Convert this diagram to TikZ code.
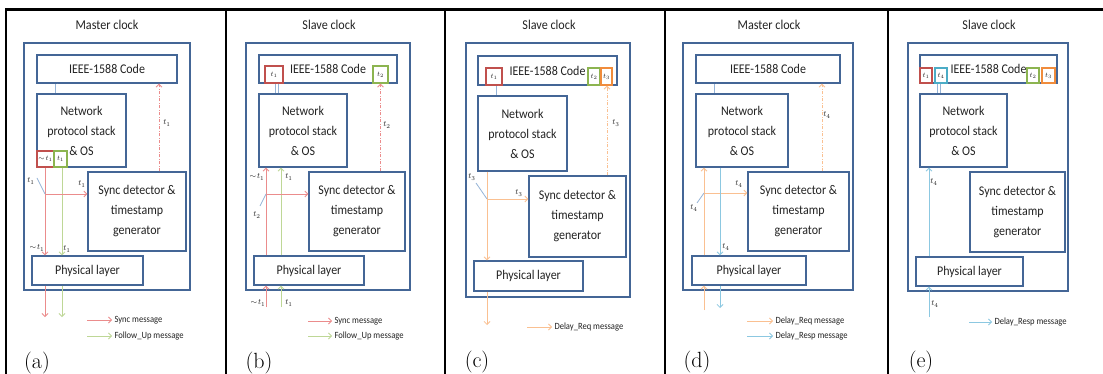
\documentclass[tikz,border=0pt]{standalone}
\usepackage{fontspec}
\usetikzlibrary{arrows.meta}
\newfontfamily\calfont[FakeStretch=0.9]{Carlito}

\definecolor{boxblue}{RGB}{68,102,150}
\definecolor{syncred}{RGB}{235,140,140}
\definecolor{tsred}{RGB}{192,80,77}
\definecolor{fugreen}{RGB}{190,215,150}
\definecolor{tsgreen}{RGB}{140,180,80}
\definecolor{reqorange}{RGB}{250,192,145}
\definecolor{tsorange}{RGB}{240,140,60}
\definecolor{respblue}{RGB}{140,200,225}
\definecolor{tsblue}{RGB}{75,172,198}
\definecolor{tickblue}{RGB}{150,180,215}
\definecolor{inkgray}{RGB}{35,35,35}

\tikzset{
  >={Straight Barb[length=3pt,width=6pt]},
  panelframe/.style={line width=2.4pt, draw=black},
  blk/.style={draw=boxblue, line width=1.3pt, fill=white, inner sep=0pt,
    text=inkgray, font=\calfont\fontsize{13.3}{20}\selectfont, align=center},
  tsbox/.style={draw=#1, line width=1.3pt, font=\fontsize{7}{7}\selectfont},
  msync/.style={draw=syncred, line width=0.8pt},
  mfollow/.style={draw=fugreen, line width=0.8pt},
  mreq/.style={draw=reqorange, line width=0.8pt},
  mresp/.style={draw=respblue, line width=0.8pt},
  mtick/.style={draw=tickblue, line width=0.8pt},
  dashdot/.style={dash pattern=on 3pt off 1.5pt on 1pt off 1.5pt},
  ifacelink/.style={draw=tickblue, double=white, double distance=2pt, line width=0.6pt},
  tlabel/.style={inner sep=0pt, text=inkgray, font=\fontsize{8.5}{8.5}\selectfont},
  clocktitle/.style={inner sep=0pt, text=inkgray, font=\calfont\fontsize{13.5}{13.5}\selectfont},
  legtext/.style={anchor=west, inner sep=0pt, outer sep=2.5pt, text=inkgray,
    font=\calfont\fontsize{9.5}{9.5}\selectfont},
  subcap/.style={inner sep=0pt, text=black, font=\fontsize{22}{22}\selectfont}
}

% block given by its corners: [options]{name}{x1}{y1}{x2}{y2}{text}
\newcommand\mkblock[7][]{%
  \node[blk,#1,minimum width={(#5)-(#3)},minimum height={(#6)-(#4)}]
    (#2) at ({(#3+#5)/2},{(#4+#6)/2}) {#7};}

\begin{document}
\begin{tikzpicture}[x=1pt,y=-1pt]
\useasboundingbox (0,0) rectangle (1103,374);
\fill[white] (0,0) rectangle (1103,374);

% table frame
\draw[panelframe] (6,374) -- (6,9.5) -- (1103,9.5);
\foreach \xx in {226,445,665,888} \draw[panelframe] (\xx,9.5) -- (\xx,374);

% ---------------- (a) master: Sync + Follow_Up sent ----------------
\node[clocktitle] (a-title) at (107,25) {Master clock};
\mkblock{a-out}{24}{43}{190}{290}{}
\mkblock{a-ieee}{37}{55}{177}{83}{IEEE-1588 Code}
\mkblock{a-net}{37}{94}{126}{167}{Network\\protocol stack\\\& OS}
\mkblock{a-syn}{88}{172}{186}{251}{Sync detector \&\\timestamp\\generator}
\mkblock{a-phy}{32}{256}{143}{285}{Physical layer}
\coordinate (a-dbl) at (56.5,0);
\draw[ifacelink] (a-ieee.south -| a-dbl) -- (a-net.north -| a-dbl);
\mkblock[tsbox=tsred]{a-tr}{37}{151}{54}{167}{$\sim\!t_1$}
\mkblock[tsbox=tsgreen]{a-tg}{54}{151}{67}{167}{$t_1$}
\coordinate (a-rx) at (45,0);
\coordinate (a-gx) at (62,0);
\coordinate (a-rend) at (45,317);
\coordinate (a-gend) at (62,317);
\draw[msync,->] (a-tr.south -| a-rx) -- (a-phy.north -| a-rx);
\draw[msync,->] (a-phy.south -| a-rx) -- (a-rend);
\draw[mfollow,->] (a-tg.south -| a-gx) -- (a-phy.north -| a-gx);
\draw[mfollow,->] (a-phy.south -| a-gx) -- (a-gend);
\coordinate (a-br) at (45,194);
\draw[msync,->] (a-br) -- (a-br -| a-syn.west);
\coordinate (a-tk) at (37,178);
\draw[mtick] (a-br) -- (a-tk);
\node[tlabel] (a-l1) at (31,181) {$t_1$};
\node[tlabel] (a-l2) at (82,184) {$t_1$};
\node[tlabel] (a-l3) at (37,248) {$\sim\!t_1$};
\node[tlabel] (a-l4) at (67,249) {$t_1$};
\coordinate (a-dx) at (159,0);
\draw[msync,dashdot,->] (a-syn.north -| a-dx) -- (a-ieee.south -| a-dx);
\node[tlabel] (a-l5) at (167,123) {$t_1$};
\node[legtext] (a-lg1) at (112,320) {Sync message};
\node[legtext] (a-lg2) at (112,336) {Follow\_Up message};
\coordinate (a-lg1s) at (87,320);
\coordinate (a-lg2s) at (87,336);
\draw[msync,->] (a-lg1s) -- (a-lg1.west);
\draw[mfollow,->] (a-lg2s) -- (a-lg2.west);
\node[subcap] (a-cap) at (37,363) {(a)};

% ---------------- (b) slave: Sync + Follow_Up received ----------------
\node[clocktitle] (b-title) at (329,25) {Slave clock};
\mkblock{b-out}{246}{43}{410}{290}{}
\mkblock{b-ieee}{259}{55}{397}{83}{IEEE-1588 Code}
\mkblock[tsbox=tsred]{b-tr}{265}{66}{283}{83}{$t_1$}
\mkblock[tsbox=tsgreen]{b-tg}{373}{66}{388}{83}{$t_2$}
\mkblock{b-net}{259}{94}{347}{167}{Network\\protocol stack\\\& OS}
\mkblock{b-syn}{309}{172}{405}{251}{Sync detector \&\\timestamp\\generator}
\mkblock{b-phy}{254}{256}{364}{285}{Physical layer}
\coordinate (b-dbl) at (277,0);
\draw[ifacelink] (b-ieee.south -| b-dbl) -- (b-net.north -| b-dbl);
\coordinate (b-rx) at (266,0);
\coordinate (b-gx) at (281,0);
\coordinate (b-rst) at (266,307);
\coordinate (b-gst) at (281,307);
\draw[msync,->] (b-rst) -- (b-phy.south -| b-rx);
\draw[msync,->] (b-phy.north -| b-rx) -- (b-net.south -| b-rx);
\draw[mfollow,->] (b-gst) -- (b-phy.south -| b-gx);
\draw[mfollow,->] (b-phy.north -| b-gx) -- (b-net.south -| b-gx);
\coordinate (b-br) at (266,194);
\draw[msync,->] (b-br) -- (b-br -| b-syn.west);
\coordinate (b-tk) at (260,206);
\draw[mtick] (b-br) -- (b-tk);
\node[tlabel] (b-l1) at (257,215) {$t_2$};
\node[tlabel] (b-l2) at (257,177) {$\sim\!t_1$};
\node[tlabel] (b-l3) at (289,177) {$t_1$};
\node[tlabel] (b-l4) at (258,303) {$\sim\!t_1$};
\node[tlabel] (b-l5) at (289,303) {$t_1$};
\coordinate (b-dx) at (380.5,0);
\draw[msync,dashdot,->] (b-syn.north -| b-dx) -- (b-tg.south -| b-dx);
\node[tlabel] (b-l6) at (387,125) {$t_2$};
\node[legtext] (b-lg1) at (332,321) {Sync message};
\node[legtext] (b-lg2) at (332,336) {Follow\_Up message};
\coordinate (b-lg1s) at (308,321);
\coordinate (b-lg2s) at (308,336);
\draw[msync,->] (b-lg1s) -- (b-lg1.west);
\draw[mfollow,->] (b-lg2s) -- (b-lg2.west);
\node[subcap] (b-cap) at (259,363) {(b)};

% ---------------- (c) slave: Delay_Req sent ----------------
\node[clocktitle] (c-title) at (549,25) {Slave clock};
\mkblock{c-out}{466}{43}{630}{297}{}
\mkblock{c-ieee}{478}{56}{617}{85}{IEEE-1588 Code}
\mkblock[tsbox=tsred]{c-tr}{486}{68}{502}{85}{$t_1$}
\mkblock[tsbox=tsgreen]{c-tg}{588}{68}{600}{85}{$t_2$}
\mkblock[tsbox=tsorange]{c-to}{601}{68}{612}{85}{$t_3$}
\mkblock{c-net}{478}{96}{567}{171}{Network\\protocol stack\\\& OS}
\mkblock{c-syn}{529}{176}{626}{257}{Sync detector \&\\timestamp\\generator}
\mkblock{c-phy}{474}{261}{583}{291}{Physical layer}
\coordinate (c-dbl) at (497.5,0);
\draw[ifacelink] (c-ieee.south -| c-dbl) -- (c-net.north -| c-dbl);
\coordinate (c-ox) at (487,0);
\coordinate (c-oend) at (487,325);
\draw[mreq,->] (c-net.south -| c-ox) -- (c-phy.north -| c-ox);
\draw[mreq,->] (c-phy.south -| c-ox) -- (c-oend);
\coordinate (c-br) at (487,199);
\draw[mreq,->] (c-br) -- (c-br -| c-syn.west);
\coordinate (c-tk) at (476,183);
\draw[mtick] (c-br) -- (c-tk);
\node[tlabel] (c-l1) at (472,177) {$t_3$};
\node[tlabel] (c-l2) at (519,193) {$t_3$};
\coordinate (c-dx) at (607,0);
\draw[mreq,dashdot,->] (c-syn.north -| c-dx) -- (c-to.south -| c-dx);
\node[tlabel] (c-l3) at (616,123) {$t_3$};
\node[legtext] (c-lg1) at (552,327) {Delay\_Req message};
\coordinate (c-lg1s) at (527,327);
\draw[mreq,->] (c-lg1s) -- (c-lg1.west);
\node[subcap] (c-cap) at (477,362) {(c)};

% ---------------- (d) master: Delay_Req received, Delay_Resp sent ----------------
\node[clocktitle] (d-title) at (769,25) {Master clock};
\mkblock{d-out}{683}{43}{853}{290}{}
\mkblock{d-ieee}{696}{55}{840}{83}{IEEE-1588 Code}
\mkblock{d-net}{696}{94}{788}{167}{Network\\protocol stack\\\& OS}
\mkblock{d-syn}{748}{172}{849}{251}{Sync detector \&\\timestamp\\generator}
\mkblock{d-phy}{692}{256}{806}{285}{Physical layer}
\coordinate (d-dbl) at (715.5,0);
\draw[ifacelink] (d-ieee.south -| d-dbl) -- (d-net.north -| d-dbl);
\coordinate (d-ox) at (704,0);
\coordinate (d-ost) at (704,310);
\draw[mreq,->] (d-ost) -- (d-phy.south -| d-ox);
\draw[mreq,->] (d-phy.north -| d-ox) -- (d-net.south -| d-ox);
\coordinate (d-br) at (704,193);
\draw[mreq,->] (d-br) -- (d-br -| d-syn.west);
\coordinate (d-tk) at (697,203);
\draw[mtick] (d-br) -- (d-tk);
\node[tlabel] (d-l1) at (694,208) {$t_4$};
\node[tlabel] (d-l2) at (739,184) {$t_4$};
\coordinate (d-bx) at (720,0);
\coordinate (d-bend) at (720,308);
\draw[mresp,->] (d-net.south -| d-bx) -- (d-phy.north -| d-bx);
\draw[mresp,->] (d-phy.south -| d-bx) -- (d-bend);
\node[tlabel] (d-l3) at (726,247) {$t_4$};
\coordinate (d-dx) at (822,0);
\draw[mreq,dashdot,->] (d-syn.north -| d-dx) -- (d-ieee.south -| d-dx);
\node[tlabel] (d-l4) at (827,115) {$t_4$};
\node[legtext] (d-lg1) at (773,321) {Delay\_Req message};
\node[legtext] (d-lg2) at (773,336) {Delay\_Resp message};
\coordinate (d-lg1s) at (747,321);
\coordinate (d-lg2s) at (747,336);
\draw[mreq,->] (d-lg1s) -- (d-lg1.west);
\draw[mresp,->] (d-lg2s) -- (d-lg2.west);
\node[subcap] (d-cap) at (697,362) {(d)};

% ---------------- (e) slave: Delay_Resp received ----------------
\node[clocktitle] (e-title) at (989,25) {Slave clock};
\mkblock{e-out}{908}{43}{1068}{291}{}
\mkblock{e-ieee}{920}{55}{1057}{83}{IEEE-1588 Code}
\mkblock[tsbox=tsred]{e-tr}{920}{68}{932}{83}{$t_1$}
\mkblock[tsbox=tsblue]{e-tb}{935}{68}{947}{83}{$t_4$}
\mkblock[tsbox=tsgreen]{e-tg}{1027}{68}{1039}{83}{$t_2$}
\mkblock[tsbox=tsorange]{e-to}{1042}{68}{1055}{83}{$t_3$}
\mkblock{e-net}{920}{94}{1007}{167}{Network\\protocol stack\\\& OS}
\mkblock{e-syn}{970}{172}{1065}{252}{Sync detector \&\\timestamp\\generator}
\mkblock{e-phy}{916}{257}{1023}{286}{Physical layer}
\coordinate (e-dbl) at (939,0);
\draw[ifacelink] (e-ieee.south -| e-dbl) -- (e-net.north -| e-dbl);
\coordinate (e-bx) at (929,0);
\coordinate (e-bst) at (929,317);
\draw[mresp,->] (e-bst) -- (e-phy.south -| e-bx);
\draw[mresp,->] (e-phy.north -| e-bx) -- (e-net.south -| e-bx);
\node[tlabel] (e-l1) at (935,304) {$t_4$};
\node[tlabel] (e-l2) at (934,182) {$t_4$};
\node[legtext] (e-lg1) at (992,322) {Delay\_Resp message};
\coordinate (e-lg1s) at (969,322);
\draw[mresp,->] (e-lg1s) -- (e-lg1.west);
\node[subcap] (e-cap) at (921,362) {(e)};
\end{tikzpicture}
\end{document}
